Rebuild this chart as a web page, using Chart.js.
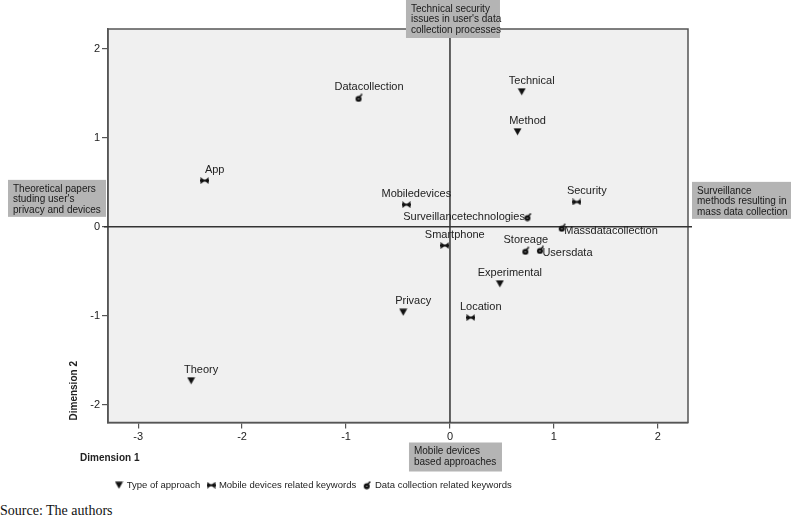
<!DOCTYPE html>
<html>
<head>
<meta charset="utf-8">
<script src="https://cdn.jsdelivr.net/npm/chart.js@4/dist/chart.umd.min.js"></script>
<style>
  body { margin: 0; background: #fff; width: 791px; height: 520px; overflow: hidden; }
  #wrap { position: relative; width: 791px; height: 500px; }
  .src { position: absolute; left: 0; top: 502px; font: 14px "Liberation Serif", "Times New Roman", serif; color: #111; line-height: 18px; }
</style>
</head>
<body>
<div id="wrap"><canvas id="chart" width="791" height="500"></canvas></div>
<div class="src">Source: The authors</div>
<script>
// datos
const xTicks = [-3, -2, -1, 0, 1, 2];
const yTicks = [-2, -1, 0, 1, 2];

const approachNames = ["Technical", "Method", "Experimental", "Privacy", "Theory"];
const approachX = [0.69, 0.65, 0.48, -0.45, -2.49];
const approachY = [1.52, 1.07, -0.64, -0.96, -1.73];

const mobileNames = ["App", "Mobiledevices", "Security", "Smartphone", "Location"];
const mobileX = [-2.36, -0.42, 1.22, -0.05, 0.20];
const mobileY = [0.52, 0.25, 0.28, -0.21, -1.02];

const dataNames = ["Datacollection", "Surveillancetechnologies", "Massdatacollection", "Storeage", "Usersdata"];
const dataX = [-0.875, 0.75, 1.08, 0.73, 0.87];
const dataY = [1.45, 0.11, -0.01, -0.27, -0.26];

const seriesLabels = ["Type of approach", "Mobile devices related keywords", "Data collection related keywords"];

// posición de etiquetas que no van encima del punto
const labelSide = { Surveillancetechnologies: "left", Massdatacollection: "right", Usersdata: "right", Storeage: "center" };

// marcadores
function marker(w, h, draw) {
  const c = document.createElement("canvas");
  c.width = w; c.height = h;
  const g = c.getContext("2d");
  g.fillStyle = "#111";
  draw(g);
  return c;
}
const triMark = marker(9, 8, g => {
  g.beginPath(); g.moveTo(0.5, 0.5); g.lineTo(8.5, 0.5); g.lineTo(4.5, 7.5); g.closePath(); g.fill();
});
const bowMark = marker(9, 7, g => {
  g.beginPath(); g.moveTo(0.5, 0); g.lineTo(4.5, 3.5); g.lineTo(0.5, 7); g.closePath(); g.fill();
  g.beginPath(); g.moveTo(8.5, 0); g.lineTo(4.5, 3.5); g.lineTo(8.5, 7); g.closePath(); g.fill();
  g.fillRect(0, 2.5, 9, 2);
});
const pinMark = marker(9, 9, g => {
  g.beginPath(); g.arc(4, 5.5, 3, 0, Math.PI * 2); g.fill();
  g.strokeStyle = "#111"; g.lineWidth = 1.5;
  g.beginPath(); g.moveTo(5, 3.5); g.lineTo(7.5, 0.8); g.stroke();
  g.fillStyle = "#ddd"; g.fillRect(3.5, 5, 1, 1);
});

function pts(xs, ys) { return xs.map((x, i) => ({ x: x, y: ys[i] })); }

const FONT = "'Liberation Sans', Arial, sans-serif";
Chart.defaults.font.family = FONT;
Chart.defaults.color = "#222";

const fondo = {
  id: "fondo",
  beforeDraw(chart) {
    const a = chart.chartArea, c = chart.ctx;
    c.save();
    c.fillStyle = "#f0f0f0";
    c.fillRect(a.left, a.top, a.right - a.left, a.bottom - a.top);
    c.restore();
  },
  beforeDatasetsDraw(chart) {
    const a = chart.chartArea, c = chart.ctx;
    const x0 = chart.scales.x.getPixelForValue(0);
    const y0 = chart.scales.y.getPixelForValue(0);
    c.save();
    c.strokeStyle = "#555"; c.lineWidth = 1.5;
    c.strokeRect(a.left, a.top, a.right - a.left, a.bottom - a.top);
    c.strokeStyle = "#333";
    c.beginPath();
    c.moveTo(a.left - 4, y0); c.lineTo(a.right + 4, y0);
    c.moveTo(x0, a.top - 10); c.lineTo(x0, a.bottom);
    c.stroke();
    c.restore();
  },
  afterDatasetsDraw(chart) {
    const c = chart.ctx;
    c.save();
    c.font = "11px " + FONT;
    c.fillStyle = "#222";
    c.textBaseline = "middle";
    chart.data.datasets.forEach((ds, i) => {
      chart.getDatasetMeta(i).data.forEach((p, j) => {
        const name = ds.names[j];
        const side = labelSide[name];
        if (side === "left") { c.textAlign = "right"; c.fillText(name, p.x - 3, p.y); }
        else if (side === "right") { c.textAlign = "left"; c.fillText(name, p.x + 2, p.y + 3); }
        else if (side === "center") { c.textAlign = "center"; c.fillText(name, p.x, p.y - 11); }
        else { c.textAlign = "center"; c.fillText(name, p.x + 10, p.y - 11); }
      });
    });
    c.restore();
  },
  afterDraw(chart) {
    const c = chart.ctx, a = chart.chartArea;
    const x0 = chart.scales.x.getPixelForValue(0);
    const y0 = chart.scales.y.getPixelForValue(0);
    function caja(x, y, w, h, lines) {
      c.fillStyle = "#b4b4b4";
      c.fillRect(x, y, w, h);
      c.fillStyle = "#1a1a1a";
      c.font = "10px " + FONT;
      c.textAlign = "left"; c.textBaseline = "middle";
      lines.forEach((t, i) => c.fillText(t, x + 5, y + 9 + i * 10.5));
    }
    c.save();
    caja(x0 - 44, 0, 94, 38, ["Technical security", "issues in user's data", "collection processes"]);
    caja(8, y0 - 47, 98, 37, ["Theoretical papers", "studing user's", "privacy and devices"]);
    caja(a.right + 4, y0 - 45, 99, 37, ["Surveillance", "methods resulting in", "mass data collection"]);
    caja(x0 - 41, a.bottom + 20, 93, 29, ["Mobile devices", "based approaches"]);
    // títulos de ejes
    c.fillStyle = "#222";
    c.font = "bold 10px " + FONT;
    c.textAlign = "left"; c.textBaseline = "middle";
    c.fillText("Dimension 1", 80, 458);
    c.translate(74, a.bottom - 2);
    c.rotate(-Math.PI / 2);
    c.fillText("Dimension 2", 0, 0);
    c.restore();
  }
};

const ctx = document.getElementById("chart");

new Chart(ctx, {
  type: "scatter",
  data: {
    datasets: [
      { label: seriesLabels[0], names: approachNames, data: pts(approachX, approachY), pointStyle: triMark },
      { label: seriesLabels[1], names: mobileNames, data: pts(mobileX, mobileY), pointStyle: bowMark },
      { label: seriesLabels[2], names: dataNames, data: pts(dataX, dataY), pointStyle: pinMark }
    ]
  },
  options: {
    responsive: false,
    animation: false,
    layout: { padding: { top: 29, right: 103, left: 0, bottom: 0 } },
    plugins: {
      legend: {
        position: "bottom",
        align: "start",
        fullSize: false,
        labels: { usePointStyle: true, color: "#222", font: { size: 9.5 }, padding: 8, boxWidth: 6 }
      },
      tooltip: { enabled: false }
    },
    scales: {
      x: {
        type: "linear",
        min: -3.29, max: 2.29,
        afterBuildTicks: s => { s.ticks = xTicks.map(v => ({ value: v })); },
        afterFit: s => { s.height = 50; },
        grid: { display: true, drawOnChartArea: false, tickLength: 6, color: "#555", lineWidth: 1.2 },
        border: { display: true, color: "#555", width: 1.5 },
        ticks: { color: "#222", font: { size: 11 }, padding: 2 }
      },
      y: {
        type: "linear",
        min: -2.2, max: 2.225,
        afterBuildTicks: s => { s.ticks = yTicks.map(v => ({ value: v })); },
        afterFit: s => { s.width = 108; },
        grid: { display: true, drawOnChartArea: false, tickLength: 6, color: "#555", lineWidth: 1.2 },
        border: { display: true, color: "#555", width: 1.5 },
        ticks: { color: "#222", font: { size: 11 }, padding: 2 }
      }
    }
  },
  plugins: [fondo]
});
</script>
</body>
</html>
